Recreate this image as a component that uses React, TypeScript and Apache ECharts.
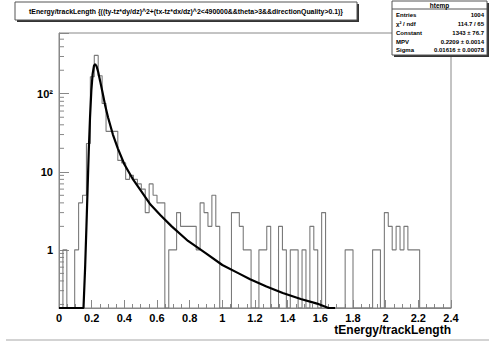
import React, { useEffect, useRef } from 'react';
import * as echarts from 'echarts';

// ---- data ----
const BIN_START = 0;
const BIN_WIDTH = 0.024;
// 100 bins from 0 to 2.4
const COUNTS = [
  0, 1, 0, 0, 1, 4, 5, 23, 165, 310,
  170, 75, 33, 33, 33, 14, 13, 8, 9, 8,
  7, 6, 3, 7, 5, 4, 4, 0, 1, 1,
  3, 2, 2, 2, 2, 1, 4, 3, 2, 5,
  2, 0, 0, 0, 3, 3, 2, 1, 1, 0,
  0, 1, 1, 2, 0, 0, 2, 1, 0, 1,
  1, 0, 1, 0, 2, 1, 0, 3, 0, 0,
  0, 0, 0, 1, 1, 0, 0, 0, 0, 0,
  1, 1, 0, 3, 2, 1, 2, 1, 2, 1,
  1, 1, 0, 0, 0, 0, 0, 0, 0, 0,
];

// Landau fit curve (0.18 = drawn along the frame bottom)
const FIT_X = [0.0, 0.15, 0.16, 0.168, 0.175, 0.182, 0.19, 0.198, 0.206, 0.214, 0.221, 0.23, 0.24, 0.252, 0.266, 0.282, 0.3, 0.33, 0.36, 0.4, 0.45, 0.5, 0.56, 0.62, 0.69, 0.79, 0.9, 1.0, 1.1, 1.17, 1.27, 1.37, 1.48, 1.58, 1.65, 1.69];
const FIT_Y = [0.18, 0.18, 0.6, 2, 6, 18, 50, 110, 180, 228, 240, 225, 190, 145, 105, 72, 50, 30, 20, 12.5, 8.2, 5.8, 3.8, 2.8, 2.0, 1.3, 0.9, 0.64, 0.5, 0.42, 0.34, 0.28, 0.235, 0.205, 0.18, 0.18];

const Y_MIN = 0.18;
const Y_MAX = 600;
const X_MIN = 0;
const X_MAX = 2.4;
const X_INTERVAL = 0.2;
const MINOR_MANTISSAS = [2, 3, 4, 5, 6, 7, 8, 9];
const MINOR_DECADES = [0.1, 1, 10, 100];

const TITLE = 'tEnergy/trackLength {((ty-tz*dy/dz)^2+(tx-tz*dx/dz)^2<490000&&theta>3&&directionQuality>0.1)}';
const X_TITLE = 'tEnergy/trackLength';
const STATS_NAME = 'htemp';
const STATS_LABELS = ['Entries', 'χ² / ndf', 'Constant', 'MPV', 'Sigma'];
const STATS_VALUES = ['1004', '114.7 / 65', '1343 ± 76.7', '0.2209 ± 0.0014', '0.01616 ± 0.00078'];

const FONT = "'Liberation Sans', Arial, Helvetica, sans-serif";

export default function App() {
  const ref = useRef<HTMLDivElement>(null);

  useEffect(() => {
    if (!ref.current) return;
    const chart = echarts.init(ref.current, undefined, { renderer: 'svg' });

    const histData: number[][] = [];
    COUNTS.forEach((c, i) => {
      histData.push([BIN_START + i * BIN_WIDTH, c > 0 ? c : Y_MIN]);
    });
    const last = COUNTS[COUNTS.length - 1];
    histData.push([BIN_START + COUNTS.length * BIN_WIDTH, last > 0 ? last : Y_MIN]);

    const fitData = FIT_X.map((x, i) => [x, FIT_Y[i]]);

    const minorTicks: number[][] = [];
    MINOR_DECADES.forEach((d) => {
      MINOR_MANTISSAS.forEach((m) => {
        const v = d * m;
        if (v > Y_MIN && v < Y_MAX) minorTicks.push([0, v]);
      });
    });

    const statsRowsY = [15, 24, 33, 41.5, 50];
    const graphics: any[] = [
      // title pave
      { type: 'rect', shape: { x: 17, y: 4, width: 342, height: 18 }, style: { fill: '#333' }, silent: true },
      { type: 'rect', shape: { x: 15, y: 2, width: 342, height: 18 }, style: { fill: '#fff', stroke: '#555', lineWidth: 1 }, silent: true },
      {
        type: 'text', x: 186, y: 11.5, silent: true,
        style: { text: TITLE, font: `bold 6.9px ${FONT}`, fill: '#000', align: 'center', verticalAlign: 'middle' },
      },
      // stats box
      { type: 'rect', shape: { x: 394, y: 3, width: 95, height: 54 }, style: { fill: '#333' }, silent: true },
      { type: 'rect', shape: { x: 392, y: 1, width: 95, height: 54 }, style: { fill: '#fff', stroke: '#555', lineWidth: 1 }, silent: true },
      { type: 'line', shape: { x1: 392, y1: 9, x2: 487, y2: 9 }, style: { stroke: '#555', lineWidth: 1 }, silent: true },
      {
        type: 'text', x: 439.5, y: 5, silent: true,
        style: { text: STATS_NAME, font: `bold 6.5px ${FONT}`, fill: '#000', align: 'center', verticalAlign: 'middle' },
      },
      // bottom grey line
      { type: 'line', shape: { x1: 6, y1: 340, x2: 489, y2: 340 }, style: { stroke: '#c4c4c4', lineWidth: 1.5 }, silent: true },
    ];
    STATS_LABELS.forEach((lab, i) => {
      graphics.push({
        type: 'text', x: 396, y: statsRowsY[i], silent: true,
        style: { text: lab, font: `bold 6px ${FONT}`, fill: '#000', align: 'left', verticalAlign: 'middle' },
      });
      graphics.push({
        type: 'text', x: 484, y: statsRowsY[i], silent: true,
        style: { text: STATS_VALUES[i], font: `bold 6px ${FONT}`, fill: '#000', align: 'right', verticalAlign: 'middle' },
      });
    });

    const option: any = {
      animation: false,
      backgroundColor: '#ffffff',
      grid: {
        left: 59, top: 33, width: 392, height: 275,
        show: true, borderColor: '#888', borderWidth: 1, backgroundColor: 'transparent',
        containLabel: false,
      },
      xAxis: {
        type: 'value', min: X_MIN, max: X_MAX, interval: X_INTERVAL,
        axisLine: { show: true, onZero: false, lineStyle: { color: '#888', width: 1 } },
        axisTick: { show: true, inside: true, length: 8, lineStyle: { color: '#888', width: 1 } },
        minorTick: { show: true, splitNumber: 4, length: 4, lineStyle: { color: '#888', width: 1 } },
        splitLine: { show: false },
        minorSplitLine: { show: false },
        axisLabel: {
          show: true, margin: 4, color: '#000', fontFamily: FONT, fontWeight: 'bold', fontSize: 11,
          showMinLabel: true, showMaxLabel: true,
          formatter: (v: number) => String(Math.round(v * 10) / 10),
        },
        name: X_TITLE,
        nameLocation: 'end',
        nameGap: 0,
        nameTextStyle: {
          color: '#000', fontFamily: FONT, fontWeight: 'bold', fontSize: 12,
          align: 'right', verticalAlign: 'top', padding: [16, 0, 0, 0],
        },
      },
      yAxis: {
        type: 'log', logBase: 10, min: Y_MIN, max: Y_MAX,
        axisLine: { show: true, lineStyle: { color: '#888', width: 1 } },
        axisTick: { show: true, inside: true, length: 10, lineStyle: { color: '#888', width: 1 } },
        splitLine: { show: false },
        axisLabel: {
          show: true, margin: 6, color: '#000', fontFamily: FONT, fontWeight: 'bold', fontSize: 11,
          formatter: (v: number) => {
            const l = Math.log10(v);
            const e = Math.round(l);
            if (Math.abs(l - e) > 1e-6) return '';
            if (e === 0) return '1';
            if (e === 1) return '10';
            if (e === 2) return '10²';
            return '';
          },
        },
      },
      series: [
        {
          type: 'custom',
          silent: true,
          clip: false,
          data: minorTicks,
          renderItem: (_p: any, api: any) => {
            const pt = api.coord([api.value(0), api.value(1)]);
            return {
              type: 'line',
              shape: { x1: pt[0], y1: pt[1], x2: pt[0] + 5, y2: pt[1] },
              style: { stroke: '#888', lineWidth: 1 },
            };
          },
        },
        {
          type: 'line',
          step: 'end',
          data: histData,
          symbol: 'none',
          silent: true,
          clip: true,
          lineStyle: { color: '#7a7a7a', width: 1.1 },
        },
        {
          type: 'line',
          data: fitData,
          symbol: 'none',
          silent: true,
          clip: true,
          smooth: false,
          lineStyle: { color: '#000', width: 2.2 },
        },
      ],
      graphic: graphics,
    };

    chart.setOption(option);
    return () => {
      chart.dispose();
    };
  }, []);

  return (
    <div
      ref={ref}
      style={{ position: 'absolute', left: 0, top: 0, width: 489, height: 347, background: '#fff' }}
    />
  );
}
